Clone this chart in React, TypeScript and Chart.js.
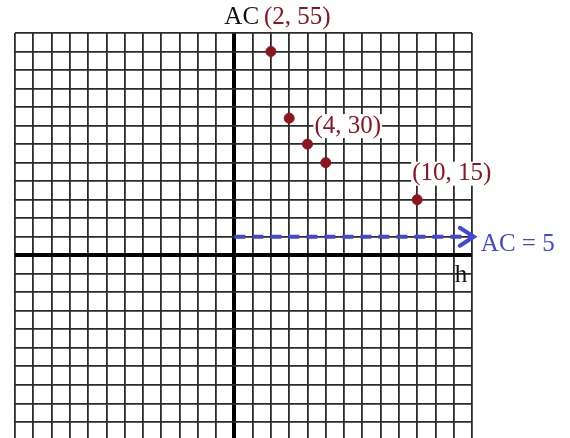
import React, { useEffect, useRef } from "react";
import { Chart, registerables } from "chart.js";

Chart.register(...registerables);

// ---- data ----
const hValues = [2, 3, 4, 5, 10];
const acValues = [55, 37, 30, 25, 15];
const pointLabels = ["(2, 55)", "", "(4, 30)", "", "(10, 15)"];
const thresholdAC = 5;
const thresholdEndH = 13.1;
const thresholdLabel = "AC = 5";
const xAxisTitle = "h";
const yAxisTitle = "AC";
const xRange = [-12, 13];
const yRange = [-55, 60];

const RED = "#8c1522";
const BLUE = "#4347d6";
const FONT = "25px 'Liberation Serif', 'DejaVu Serif', serif";

const labelPlugin = {
  id: "labelPlugin",
  afterDatasetsDraw(chart: any) {
    const ctx = chart.ctx;
    const xs = chart.scales.x;
    const ys = chart.scales.y;
    const x0 = xs.getPixelForValue(0);
    const y0 = ys.getPixelForValue(0);
    ctx.save();
    ctx.font = FONT;
    ctx.textBaseline = "middle";

    // arrow head at end of threshold line
    const tipX = xs.getPixelForValue(thresholdEndH);
    const tipY = ys.getPixelForValue(thresholdAC);
    ctx.strokeStyle = BLUE;
    ctx.lineWidth = 4;
    ctx.lineCap = "round";
    ctx.lineJoin = "miter";
    ctx.beginPath();
    ctx.moveTo(tipX - 14, tipY - 9);
    ctx.lineTo(tipX, tipY);
    ctx.lineTo(tipX - 14, tipY + 9);
    ctx.stroke();

    // threshold label
    ctx.fillStyle = BLUE;
    ctx.textAlign = "left";
    ctx.fillText(thresholdLabel, tipX + 7, tipY + 8);

    // axis titles
    ctx.fillStyle = "#111";
    ctx.textAlign = "left";
    ctx.fillText(yAxisTitle, x0 - 10, 17);
    ctx.fillText(xAxisTitle, xs.getPixelForValue(12) + 1, y0 + 20);

    // point labels
    const offsets: Record<number, [number, number]> = {
      0: [-7, 0],
      2: [7, -18],
      4: [-5, -26],
    };
    pointLabels.forEach((t, i) => {
      if (!t) return;
      const px = xs.getPixelForValue(hValues[i]);
      const py = ys.getPixelForValue(acValues[i]);
      const [dx, dy] = offsets[i] || [5, -15];
      const lx = px + dx;
      const ly = i === 0 ? 17 : py + dy;
      const w = ctx.measureText(t).width;
      if (i !== 0) {
        ctx.fillStyle = "#ffffff";
        ctx.fillRect(lx - 1, ly - 12, w + 2, 24);
      }
      ctx.fillStyle = RED;
      ctx.fillText(t, lx, ly);
    });
    ctx.restore();
  },
};

export default function App() {
  const ref = useRef<HTMLCanvasElement | null>(null);
  useEffect(() => {
    if (!ref.current) return;
    const gridColor = (c: any) => (c.tick && c.tick.value === 0 ? "#000" : "#2b2b2b");
    const gridWidth = (c: any) => (c.tick && c.tick.value === 0 ? 4 : 1.8);
    const chart = new Chart(ref.current, {
      type: "scatter",
      data: {
        datasets: [
          {
            type: "line",
            data: [
              { x: 0, y: thresholdAC },
              { x: thresholdEndH, y: thresholdAC },
            ],
            borderColor: BLUE,
            borderWidth: 4,
            borderDash: [11, 7],
            pointRadius: 0,
            clip: false,
            order: 2,
          } as any,
          {
            data: hValues.map((h, i) => ({ x: h, y: acValues[i] })),
            backgroundColor: RED,
            borderColor: RED,
            pointRadius: 5,
            pointHoverRadius: 5,
            order: 1,
          },
        ],
      },
      options: {
        responsive: false,
        animation: false,
        events: [],
        layout: { padding: { left: 15, top: 33, right: 98, bottom: 11 } },
        plugins: { legend: { display: false }, tooltip: { enabled: false } },
        scales: {
          x: {
            type: "linear",
            min: xRange[0],
            max: xRange[1],
            ticks: { display: false, stepSize: 1, maxTicksLimit: 200 },
            border: { display: false },
            grid: { color: gridColor, lineWidth: gridWidth, drawTicks: false, tickLength: 0 },
          },
          y: {
            type: "linear",
            min: yRange[0],
            max: yRange[1],
            ticks: { display: false, stepSize: 5, maxTicksLimit: 200 },
            border: { display: false },
            grid: { color: gridColor, lineWidth: gridWidth, drawTicks: false, tickLength: 0 },
          },
        },
      },
      plugins: [labelPlugin],
    });
    return () => chart.destroy();
  }, []);
  return (
    <div style={{ position: "fixed", left: 0, top: 0, width: 570, height: 470, background: "#fff" }}>
      <canvas ref={ref} width={570} height={470} style={{ display: "block" }} />
    </div>
  );
}
